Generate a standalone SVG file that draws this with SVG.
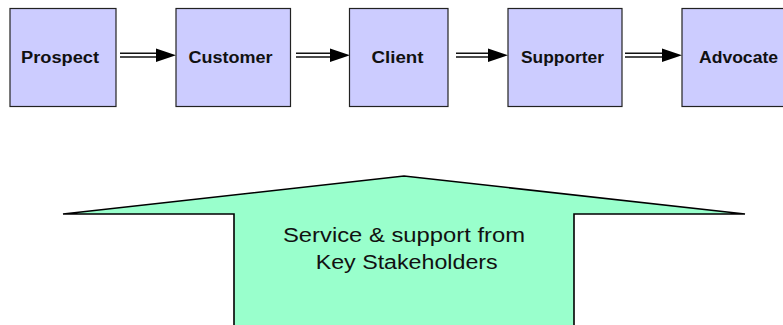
<svg xmlns="http://www.w3.org/2000/svg" width="783" height="325" viewBox="0 0 783 325">
<style>
.box{fill:#ccccff;stroke:#222;stroke-width:1.2}
.lbl{font-family:"Liberation Sans",Arial,sans-serif;font-weight:bold;font-size:16px;fill:#111;text-anchor:middle}
.dl{stroke:#111;stroke-width:1.6}
.head{fill:#000}
.big{fill:#99ffcc;stroke:#000;stroke-width:1.6;stroke-linejoin:miter}
.btxt{font-family:"Liberation Sans",Arial,sans-serif;font-size:20px;fill:#111;text-anchor:middle}
</style>
<rect width="783" height="325" fill="#fff"/>
<g id="connectors">
<g id="c1"><line class="dl" x1="120" y1="53.2" x2="158" y2="53.2"/><line class="dl" x1="120" y1="57" x2="158" y2="57"/><polygon class="head" points="156,48.5 176,55.2 156,62"/></g>
<g id="c2"><line class="dl" x1="296" y1="53.2" x2="332" y2="53.2"/><line class="dl" x1="296" y1="57" x2="332" y2="57"/><polygon class="head" points="330,48.5 350,55.2 330,62"/></g>
<g id="c3"><line class="dl" x1="456" y1="53.2" x2="490" y2="53.2"/><line class="dl" x1="456" y1="57" x2="490" y2="57"/><polygon class="head" points="488,48.5 508,55.2 488,62"/></g>
<g id="c4"><line class="dl" x1="625" y1="53.2" x2="664" y2="53.2"/><line class="dl" x1="625" y1="57" x2="664" y2="57"/><polygon class="head" points="662,48.5 682,55.2 662,62"/></g>
</g>
<g id="prospect"><rect class="box" x="10" y="8.5" width="106" height="98"/><text class="lbl" x="60" y="63.3" textLength="78" lengthAdjust="spacingAndGlyphs">Prospect</text></g>
<g id="customer"><rect class="box" x="176" y="8.5" width="114.5" height="98"/><text class="lbl" x="230.5" y="63.3" textLength="84" lengthAdjust="spacingAndGlyphs">Customer</text></g>
<g id="client"><rect class="box" x="349.5" y="8.5" width="98.5" height="98"/><text class="lbl" x="397.5" y="63.3" textLength="52" lengthAdjust="spacingAndGlyphs">Client</text></g>
<g id="supporter"><rect class="box" x="508" y="8.5" width="114" height="98"/><text class="lbl" x="562.5" y="63.3" textLength="83" lengthAdjust="spacingAndGlyphs">Supporter</text></g>
<g id="advocate"><rect class="box" x="682" y="8.5" width="114" height="98"/><text class="lbl" x="738.5" y="63.3" textLength="79" lengthAdjust="spacingAndGlyphs">Advocate</text></g>
<g id="support-arrow">
<polygon class="big" points="234,330 234,214 63,214 404,176 745,214 574,214 574,330"/>
<text class="btxt" x="404" y="241.7" textLength="242" lengthAdjust="spacingAndGlyphs">Service &amp; support from</text>
<text class="btxt" x="406.7" y="269" textLength="182" lengthAdjust="spacingAndGlyphs">Key Stakeholders</text>
</g>
</svg>
